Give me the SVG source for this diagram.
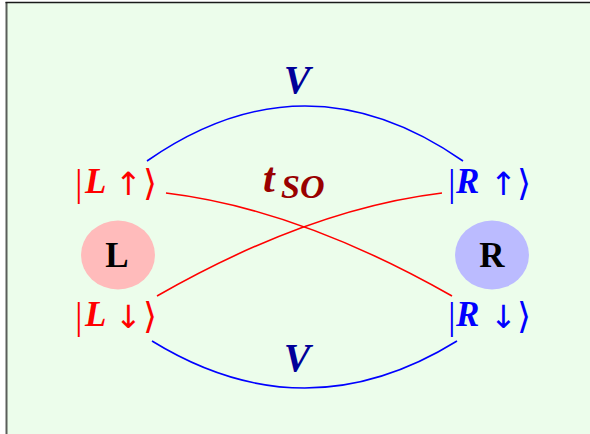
<svg xmlns="http://www.w3.org/2000/svg" width="590" height="434" viewBox="0 0 590 434">
<defs>
<style>
.bg{fill:#ecfdeb}
.lbl{font-family:"Liberation Serif","DejaVu Serif",serif;font-size:34px}
.red{fill:#ff0000}
.blue{fill:#0000ff}
.bar{font-size:38px}
.bi{font-weight:bold;font-style:italic;font-size:35px}
.ar{font-family:"DejaVu Sans",sans-serif;font-size:32px}
.br{font-family:"DejaVu Sans",sans-serif;font-weight:normal;font-size:36px}
.v{font-family:"Liberation Serif",serif;font-size:40px;font-weight:bold;font-style:italic;fill:#000099;text-anchor:middle}
.t{font-family:"Liberation Serif",serif;font-style:italic;font-weight:bold;fill:#990000}
.site{font-family:"Liberation Serif",serif;font-size:35px;font-weight:bold;fill:#000000;text-anchor:middle}
.hop{fill:none;stroke:#0000ff;stroke-width:1.6}
.so{fill:none;stroke:#ff0000;stroke-width:1.6}
</style>
</defs>
<rect class="bg" x="7" y="3" width="583" height="431"/>
<line x1="6.5" y1="2" x2="6.5" y2="434" stroke="#5a5f5a" stroke-width="2"/>
<line x1="5.5" y1="2.5" x2="590" y2="2.5" stroke="#1a1a1a" stroke-width="1.5"/>

<g id="connectors">
<path class="hop" d="M147,161 Q305,51 463,161"/>
<path class="hop" d="M152,341 Q305,435 457,341"/>
<path class="so" d="M166,193 Q299,209 452,296"/>
<path class="so" d="M157,296 Q309,209 442,193"/>
</g>

<g id="edge-labels">
<text class="v" x="297" y="93">V</text>
<text class="v" x="297" y="371">V</text>
<text class="t"><tspan x="263" y="192" font-size="42">t</tspan><tspan x="281" y="198" font-size="34">SO</tspan></text>
</g>

<g id="site-L">
<ellipse cx="118" cy="255" rx="37" ry="34.5" fill="#ffbbbb"/>
<text class="site" x="117" y="267">L</text>
</g>
<g id="site-R">
<ellipse cx="492" cy="255" rx="37" ry="34.5" fill="#bbbbff"/>
<text class="site" x="492" y="267">R</text>
</g>

<g id="state-L-up">
<text class="lbl red" y="193"><tspan class="bar" x="75" y="196">|</tspan><tspan class="bi" x="85" y="193">L</tspan><tspan class="ar" x="115" y="195">↑</tspan><tspan class="br" x="143" y="195">⟩</tspan></text>
</g>
<g id="state-L-down">
<text class="lbl red" y="326"><tspan class="bar" x="75" y="329">|</tspan><tspan class="bi" x="85" y="326">L</tspan><tspan class="ar" x="115" y="328">↓</tspan><tspan class="br" x="143" y="328">⟩</tspan></text>
</g>
<g id="state-R-up">
<text class="lbl blue" y="193"><tspan class="bar" x="448" y="196">|</tspan><tspan class="bi" x="456" y="193">R</tspan><tspan class="ar" x="490" y="195">↑</tspan><tspan class="br" x="517" y="195">⟩</tspan></text>
</g>
<g id="state-R-down">
<text class="lbl blue" y="326"><tspan class="bar" x="448" y="329">|</tspan><tspan class="bi" x="456" y="326">R</tspan><tspan class="ar" x="490" y="328">↓</tspan><tspan class="br" x="517" y="328">⟩</tspan></text>
</g>
</svg>
